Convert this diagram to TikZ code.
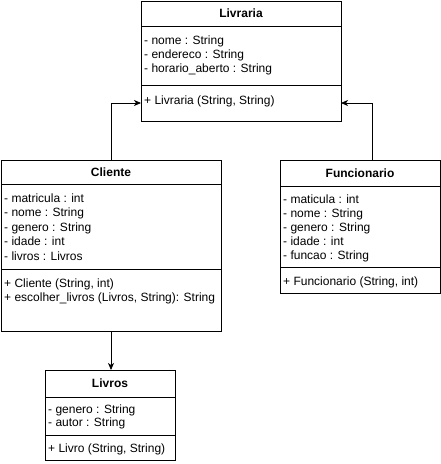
\documentclass[tikz,border=0pt]{standalone}
\usepackage{fontspec}
\setmainfont{Liberation Sans}
\usetikzlibrary{positioning,arrows.meta}

\begin{document}
\begin{tikzpicture}[x=1pt,y=-1pt,font=\fontsize{12}{14}\selectfont,
      part/.style={draw,line width=0.8pt,inner sep=0pt,outer sep=0pt,anchor=north west},
      head/.style={part,font=\fontsize{12}{14}\selectfont\bfseries},
      member/.style={anchor=base west,inner sep=0pt},
      assoc/.style={draw,line width=0.8pt,-{Stealth[length=7pt,width=6pt,inset=2pt]}}]
    \useasboundingbox (0,0) rectangle (441,464);

    % Livraria
    \node[head,minimum width=200,minimum height=25] (liv-t) at (141,1) {Livraria};
    \node[part,minimum width=200,minimum height=59,below=0pt of liv-t] (liv-a) {};
    \node[part,minimum width=200,minimum height=36,below=0pt of liv-a] (liv-m) {};
    \foreach \s [count=\i] in {- nome : String,- endereco : String,- horario\_aberto : String}
      \node[member] (liv-a\i) at ([shift={(3,4+14*\i)}]liv-a.north west) {\s};
    \node[member] (liv-m1) at ([shift={(3,19)}]liv-m.north west) {+ Livraria (String, String)};

    % Cliente
    \node[head,minimum width=220,minimum height=24] (cli-t) at (1,160) {Cliente};
    \node[part,minimum width=220,minimum height=85,below=0pt of cli-t] (cli-a) {};
    \node[part,minimum width=220,minimum height=62,below=0pt of cli-a] (cli-m) {};
    \foreach \s [count=\i] in {- matricula : int,- nome : String,- genero : String,- idade : int,- livros : Livros}
      \node[member] (cli-a\i) at ([shift={(3,3.5+14.5*\i)}]cli-a.north west) {\s};
    \foreach \s [count=\i] in {{+ Cliente (String, int)},{+ escolher\_livros (Livros, String): String}}
      \node[member] (cli-m\i) at ([shift={(3,4+14*\i)}]cli-m.north west) {\s};

    % Funcionario
    \node[head,minimum width=160,minimum height=26] (fun-t) at (280,160) {Funcionario};
    \node[part,minimum width=160,minimum height=81,below=0pt of fun-t] (fun-a) {};
    \node[part,minimum width=160,minimum height=26,below=0pt of fun-a] (fun-m) {};
    \foreach \s [count=\i] in {- maticula : int,- nome : String,- genero : String,- idade : int,- funcao : String}
      \node[member] (fun-a\i) at ([shift={(3,3.5+14*\i)}]fun-a.north west) {\s};
    \node[member] (fun-m1) at ([shift={(3,18.5)}]fun-m.north west) {+ Funcionario (String, int)};

    % Livros
    \node[head,minimum width=130,minimum height=27] (lvr-t) at (45,370) {Livros};
    \node[part,minimum width=130,minimum height=38,below=0pt of lvr-t] (lvr-a) {};
    \node[part,minimum width=130,minimum height=25,below=0pt of lvr-a] (lvr-m) {};
    \foreach \s [count=\i] in {- genero : String,- autor : String}
      \node[member] (lvr-a\i) at ([shift={(3,3.5+13*\i)}]lvr-a.north west) {\s};
    \node[member] (lvr-m1) at ([shift={(3,17.5)}]lvr-m.north west) {+ Livro (String, String)};

    % associations
    \draw[assoc] (cli-t.north) |- (liv-m.west);
    \draw[assoc] ([xshift=12pt]fun-t.north) |- (liv-m.east);
    \draw[assoc] (cli-m.south) -- (cli-m.south |- lvr-t.north);
  \end{tikzpicture}
\end{document}
